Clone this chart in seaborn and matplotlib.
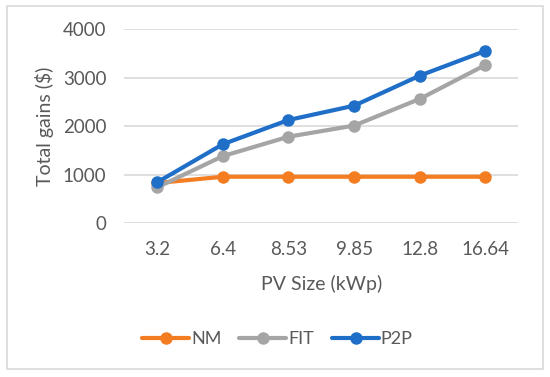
import matplotlib
matplotlib.use("Agg")
import matplotlib.pyplot as plt
import seaborn as sns
import pandas as pd
from matplotlib.patches import Rectangle

pv_sizes = ["3.2", "6.4", "8.53", "9.85", "12.8", "16.64"]
nm = [830, 960, 960, 960, 960, 960]
fit = [740, 1385, 1785, 2015, 2565, 3265]
p2p = [845, 1630, 2130, 2425, 3045, 3555]
series_names = ["NM", "FIT", "P2P"]
colors = ["#F47D22", "#A5A5A5", "#1F6FC8"]

df = pd.DataFrame({
    "PV Size": pv_sizes * 3,
    "value": nm + fit + p2p,
    "series": [s for s in series_names for _ in pv_sizes],
})

sns.set_theme(style="white")
plt.rcParams["font.family"] = ["Lato", "DejaVu Sans"]

fig = plt.figure(figsize=(5.5, 3.77), dpi=100)
ax = fig.add_axes([124.3 / 550, 1 - 223.3 / 377, (518.3 - 124.3) / 550, (223.3 - 29.3) / 377])

sns.lineplot(data=df, x="PV Size", y="value", hue="series", palette=colors,
             hue_order=series_names, marker="o", markersize=9, linewidth=3,
             markeredgewidth=0, sort=False, ax=ax, legend=True)

ax.set_xlim(-0.5, 5.5)
ax.set_ylim(0, 4000)
ax.set_yticks([0, 1000, 2000, 3000, 4000])
ax.grid(axis="y", color="#D9D9D9", linewidth=1.2)
ax.set_axisbelow(True)
for sp in ax.spines.values():
    sp.set_visible(False)
ax.tick_params(axis="both", colors="#595959", labelsize=13.5, length=0)
ax.tick_params(axis="y", pad=13)
ax.tick_params(axis="x", pad=13)
ax.set_xlabel("PV Size (kWp)", fontsize=14, color="#595959", labelpad=12)
ax.set_ylabel("Total gains ($)", fontsize=14, color="#595959", labelpad=6)

leg = ax.legend(loc="center", bbox_to_anchor=(277.5 / 550, 1 - 339 / 377),
                bbox_transform=fig.transFigure, ncol=3, frameon=False,
                fontsize=13, handlelength=2.6, handletextpad=0.1,
                columnspacing=1.0, labelcolor="#595959")

fig.patches.append(Rectangle((6.5 / 550, 1 - 368.5 / 377), (542.7 - 6.5) / 550,
                             (368.5 - 6) / 377, transform=fig.transFigure,
                             fill=False, edgecolor="#D9D9D9", linewidth=1.2))

fig.savefig("out.png", dpi=100)
